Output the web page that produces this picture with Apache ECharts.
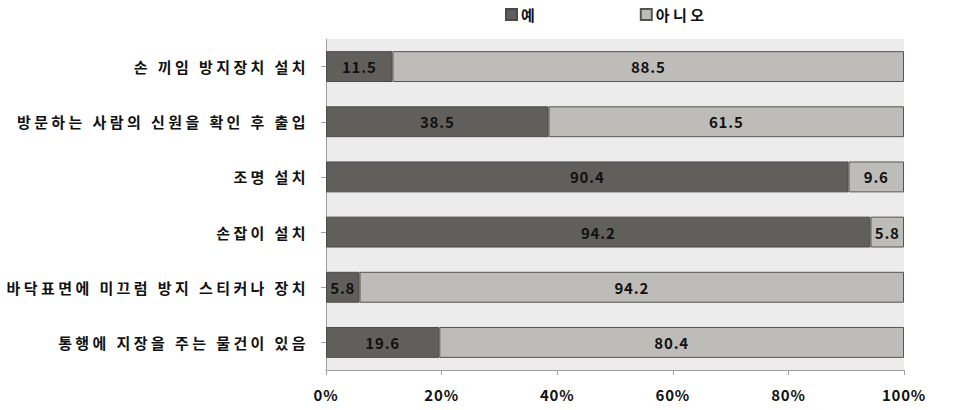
<!DOCTYPE html>
<html><head><meta charset="utf-8">
<script src="https://cdn.jsdelivr.net/npm/echarts@6/dist/echarts.min.js"></script>
<style>html,body{margin:0;padding:0;background:#fff}#c{width:956px;height:410px}</style>
</head><body><div id="c"></div>
<script>
var categories = ['손 끼임 방지장치 설치','방문하는 사람의 신원을 확인 후 출입','조명 설치','손잡이 설치','바닥표면에 미끄럼 방지 스티커나 장치','통행에 지장을 주는 물건이 있음'];
var yesValues = [11.5, 38.5, 90.4, 94.2, 5.8, 19.6];
var noValues = [88.5, 61.5, 9.6, 5.8, 94.2, 80.4];
var seriesNames = ['예','아니오'];
var FONT = '"Noto Sans CJK KR", sans-serif';
var chart = echarts.init(document.getElementById('c'), null, {renderer:'svg'});
var lbl = {show:true, position:'inside', color:'#111', fontFamily:FONT, fontWeight:'bold', fontSize:15, formatter:function(p){return p.value.toFixed(1);}};
chart.setOption({
  animation:false,
  backgroundColor:'#fff',
  legend:{top:2, left:500, itemGap:105, itemWidth:11, itemHeight:11, icon:'rect',
    textStyle:{fontFamily:FONT, fontWeight:'bold', fontSize:15, color:'#111', padding:[0,0,0,-1]},
    data:seriesNames},
  grid:{left:326, right:52, top:39, bottom:40, show:true, backgroundColor:'#ececec', borderWidth:0},
  xAxis:{type:'value', min:0, max:100, interval:20,
    axisLine:{show:true, lineStyle:{color:'#a0a0a0'}},
    axisTick:{show:true, length:5, lineStyle:{color:'#a0a0a0'}},
    splitLine:{show:false},
    axisLabel:{formatter:'{value}%', margin:17, fontFamily:FONT, fontWeight:'bold', fontSize:15, color:'#111'}},
  yAxis:{type:'category', inverse:true, data:categories,
    axisLine:{show:true, lineStyle:{color:'#a0a0a0'}},
    axisTick:{show:true, alignWithLabel:true, length:5, lineStyle:{color:'#a0a0a0'}},
    axisLabel:{margin:17, fontFamily:FONT, fontWeight:'bold', fontSize:15, color:'#111'}},
  series:[
    {name:seriesNames[0], type:'bar', stack:'a', data:yesValues, barWidth:'56%',
     itemStyle:{color:'#615f5b', borderColor:'#4a4a48', borderWidth:1}, label:lbl},
    {name:seriesNames[1], type:'bar', stack:'a', data:noValues, barWidth:'56%',
     itemStyle:{color:'#bebcb8', borderColor:'#55554f', borderWidth:1}, label:lbl}
  ]
});
function applySpacing(){
  var nodes = document.querySelectorAll('#c svg text');
  for (var i=0;i<nodes.length;i++){
    var t = nodes[i].textContent || '';
    var sp = /[\uAC00-\uD7A3]/.test(t) ? '3.4px' : '0.8px';
    nodes[i].style.letterSpacing = sp;
  }
}
chart.on('finished', applySpacing);
applySpacing();
setTimeout(applySpacing, 0);
setTimeout(applySpacing, 100);
</script></body></html>
